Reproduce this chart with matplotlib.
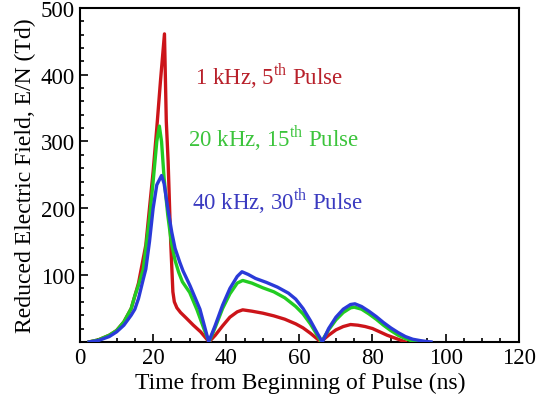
import matplotlib
matplotlib.use("Agg")
import matplotlib.pyplot as plt
from matplotlib.ticker import MultipleLocator, FixedLocator

plt.rcParams['font.family'] = ['Liberation Serif', 'DejaVu Serif']
plt.rcParams['mathtext.fontset'] = 'custom'
plt.rcParams['mathtext.rm'] = 'Liberation Serif'

# 1 kHz, 5th pulse
t_red = [2.5, 5, 8, 10, 12, 14, 16, 18, 20, 21, 22, 23.1, 23.6, 24.1, 24.8, 25.4,
         25.8, 26.5, 27.5, 29, 31, 33, 35.3, 37, 39, 41, 43, 44.5, 47, 50, 53, 56,
         59, 61, 63, 65, 65.8, 68, 70, 72, 74, 76, 78, 80, 82, 84, 86, 88, 89]
v_red = [0, 3, 10, 17, 30, 50, 88, 145, 255, 320, 390, 461, 330, 270, 150, 75,
         60, 51, 44, 36, 25, 15, 0, 10, 24, 37, 45, 48, 46, 43, 39, 34,
         27, 21, 13, 4, 0, 10, 18, 23, 26, 25, 23, 20, 15, 10, 6, 2, 0]

# 20 kHz, 15th pulse
t_green = [2.5, 5, 8, 10, 12, 14, 15, 16, 17.3, 18, 19, 20, 21, 21.7, 22.3, 23, 24,
           25, 26, 27, 28, 30, 32, 34, 35.3, 37, 39, 41, 43, 44.5, 47, 50, 53, 56,
           59, 61, 63, 65, 66, 68, 70, 72, 74, 75, 77, 79, 81, 83, 85, 87, 89, 91, 92]
v_green = [0, 3, 10, 17, 30, 50, 69, 85, 109, 140, 185, 240, 300, 323, 300, 245, 190,
           148, 122, 104, 90, 74, 48, 18, 0, 22, 50, 72, 88, 92, 88, 81, 75, 66,
           53, 42, 27, 9, 0, 18, 33, 44, 51, 52, 49, 42, 34, 25, 17, 10, 5, 1, 0]

# 40 kHz, 30th pulse
t_blue = [2.5, 5, 8, 10, 12, 14, 15, 16, 17.3, 18, 19, 20, 21, 22.3, 23, 24, 25.1,
          26, 27.3, 28.2, 30.1, 32.8, 35.2, 37, 39, 41, 43, 44.3, 46, 48, 51, 54,
          57, 59, 61, 63, 65, 66.3, 68, 70, 72, 74, 75.2, 77, 79, 81, 83, 85, 87,
          89, 91, 93, 95, 96]
v_blue = [0, 2, 8, 15, 25, 40, 49, 65, 94, 109, 150, 200, 235, 249, 237, 200, 164,
          140, 119, 106, 84, 49, 0, 25, 55, 80, 98, 105, 101, 95, 89, 82,
          73, 64, 50, 32, 12, 0, 20, 37, 49, 56, 57, 53, 46, 38, 29, 21, 14,
          8, 4, 2, 0.5, 0]

labels = ["1 kHz, 5$^{\\rm th}$ Pulse", "20 kHz, 15$^{\\rm th}$ Pulse", "40 kHz, 30$^{\\rm th}$ Pulse"]
line_colors = ["#cc1419", "#22cc22", "#2a3ad8"]
text_colors = ["#b8202a", "#3cc43c", "#3a3ac0"]

fig = plt.figure(figsize=(5.37, 4.02), dpi=100)
ax = fig.add_axes([0.149, 0.147, 0.817, 0.831])

ax.plot(t_red, v_red, color=line_colors[0], lw=2.4, zorder=3)
ax.plot(t_green, v_green, color=line_colors[1], lw=2.4, zorder=4)
ax.plot(t_blue, v_blue, color=line_colors[2], lw=2.4, zorder=5)

ax.set_xlim(0, 120)
ax.set_ylim(0, 500)
ax.xaxis.set_major_locator(MultipleLocator(20))
ax.xaxis.set_minor_locator(MultipleLocator(5))
ax.yaxis.set_major_locator(FixedLocator([100, 200, 300, 400, 500]))
ax.yaxis.set_minor_locator(MultipleLocator(20))
ax.tick_params(which='both', direction='in', labelsize=16.5, width=1.2)
ax.tick_params(which='major', length=6)
ax.tick_params(which='minor', length=3)
for s in ax.spines.values():
    s.set_linewidth(1.5)

ax.set_xlabel("Time from Beginning of Pulse (ns)", fontsize=17)
ax.set_ylabel("Reduced Electric Field, E/N (Td)", fontsize=17)
ax.xaxis.set_label_coords(0.502, -0.09)
ax.yaxis.set_label_coords(-0.10, 0.5)

ax.text(31.5, 400, labels[0], color=text_colors[0], fontsize=16.5, va='center')
ax.text(29.5, 306, labels[1], color=text_colors[1], fontsize=16.5, va='center')
ax.text(30.6, 213, labels[2], color=text_colors[2], fontsize=16.5, va='center')

fig.savefig("out.png", dpi=100)
